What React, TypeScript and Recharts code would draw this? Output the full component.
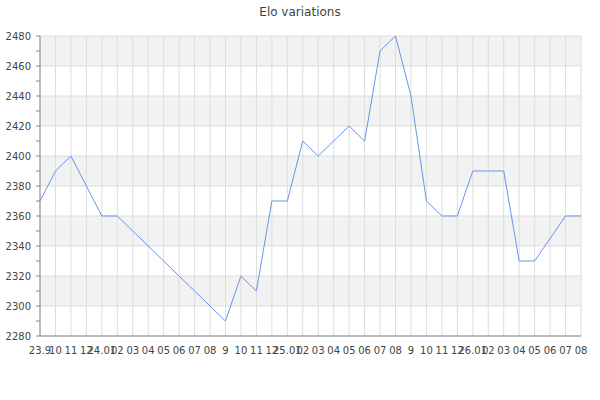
import { CartesianGrid, Line, LineChart, XAxis, YAxis } from 'recharts'

const periods = [
  '23.9', '10', '11', '12', '24.01', '02', '03', '04', '05', '06', '07', '08',
  '9', '10', '11', '12', '25.01', '02', '03', '04', '05', '06', '07', '08',
  '9', '10', '11', '12', '26.01', '02', '03', '04', '05', '06', '07', '08',
]

const elo = [
  2370, 2390, 2400, 2380, 2360, 2360, 2350, 2340, 2330, 2320, 2310, 2300,
  2290, 2320, 2310, 2370, 2370, 2410, 2400, 2410, 2420, 2410, 2470, 2480,
  2440, 2370, 2360, 2360, 2390, 2390, 2390, 2330, 2330, 2345, 2360, 2360,
]

const yTicks = [2280, 2290, 2300, 2310, 2320, 2330, 2340, 2350, 2360, 2370, 2380, 2390, 2400, 2410, 2420, 2430, 2440, 2450, 2460, 2470, 2480]
const yGrid = [2280, 2300, 2320, 2340, 2360, 2380, 2400, 2420, 2440, 2460, 2480]

const data = periods.map((p, i) => ({ key: i, label: p, elo: elo[i] }))

const FONT = '"DejaVu Sans", sans-serif'
const TEXT = '#444'
const AXIS = '#888'

export default function App() {
  return (
    <div
      style={{
        position: 'absolute',
        left: 0,
        top: 0,
        width: 600,
        height: 400,
        background: '#fff',
        fontFamily: FONT,
      }}
    >
      <div
        style={{
          position: 'absolute',
          top: 4,
          left: 0,
          width: 600,
          textAlign: 'center',
          fontSize: 12,
          lineHeight: '16px',
          color: TEXT,
        }}
      >
        Elo variations
      </div>
      <LineChart
        width={600}
        height={400}
        data={data}
        margin={{ top: 36, right: 19, bottom: 44, left: 0 }}
      >
        <CartesianGrid
          stroke="#dddddd"
          horizontalValues={yGrid}
          horizontalFill={['#f2f2f2', '#ffffff']}
          fillOpacity={1}
        />
        <XAxis
          dataKey="key"
          tickFormatter={(i: number) => periods[i]}
          interval={0}
          height={20}
          tickLine={false}
          tickSize={0}
          tickMargin={11}
          axisLine={{ stroke: AXIS }}
          tick={{ fill: TEXT, fontSize: 10, fontFamily: FONT }}
        />
        <YAxis
          domain={[2280, 2480]}
          ticks={yTicks}
          interval={0}
          width={40}
          tickSize={4}
          tickMargin={5}
          tickFormatter={(v: number) => (v % 20 === 0 ? String(v) : '')}
          axisLine={{ stroke: AXIS }}
          tickLine={{ stroke: AXIS }}
          tick={{ fill: TEXT, fontSize: 10, fontFamily: FONT }}
        />
        <Line
          type="linear"
          dataKey="elo"
          stroke="#6495ed"
          strokeWidth={1}
          dot={false}
          activeDot={false}
          isAnimationActive={false}
        />
      </LineChart>
    </div>
  )
}
